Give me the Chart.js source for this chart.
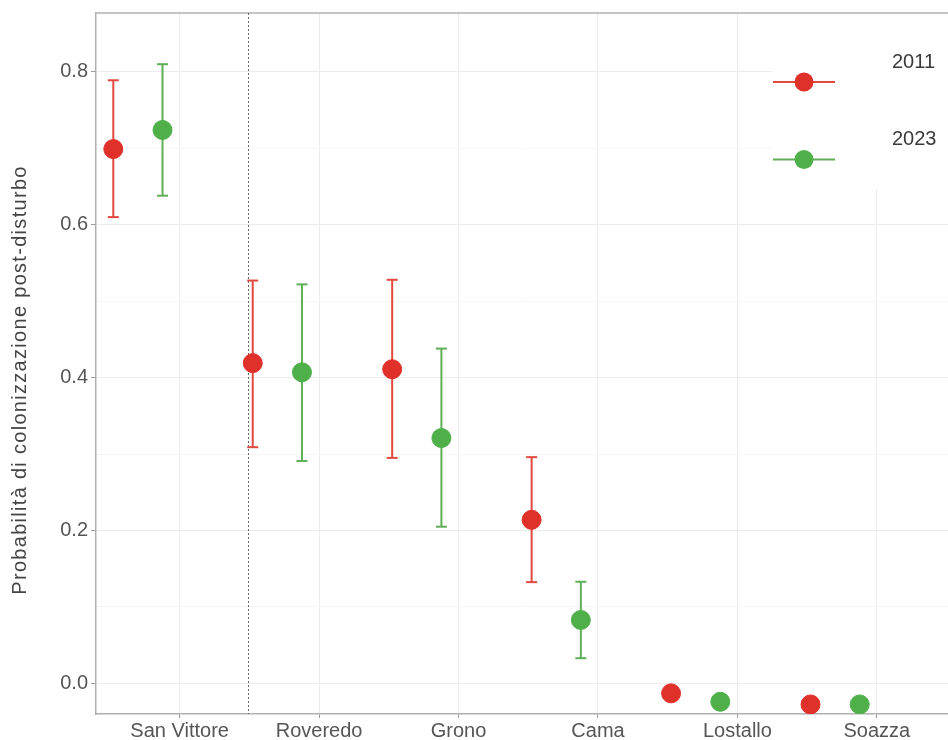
<!DOCTYPE html>
<html>
<head>
<meta charset="utf-8">
<script src="https://cdn.jsdelivr.net/npm/chart.js@4"></script>
<style>
  html, body { margin: 0; padding: 0; background: #fff; }
  canvas { display: block; }
</style>
</head>
<body>
<canvas id="grafico" width="948" height="740"></canvas>
<script>
// Dati
const siti = ['San Vittore', 'Roveredo', 'Grono', 'Cama', 'Lostallo', 'Soazza'];
const anni = ['2011', '2023'];

const prob2011 = [0.699, 0.419, 0.411, 0.214, -0.013, -0.0275];
const inf2011  = [0.610, 0.309, 0.295, 0.1325, -0.022, -0.0275];
const sup2011  = [0.789, 0.527, 0.528, 0.296, -0.004, -0.0275];

const prob2023 = [0.724, 0.407, 0.321, 0.083, -0.024, -0.0275];
const inf2023  = [0.638, 0.291, 0.205, 0.033, -0.024, -0.0275];
const sup2023  = [0.810, 0.522, 0.438, 0.133, -0.024, -0.0275];

const yTicks = [0.0, 0.2, 0.4, 0.6, 0.8];
const titoloY = 'Probabilità di colonizzazione post-disturbo';

// Stile
const colori = ['#e0302a', '#4fb04a'];
const coloriBarre = ['#e2493f', '#5fae58'];
const spostamento = [-0.476, -0.123];   // posizione dei due anni rispetto al sito
const separatore = 0.49;                 // linea tratteggiata verticale
const testoGrigio = '#555555';
const famiglia = '"Liberation Sans", Arial, sans-serif';

function punti(valori, k) {
    return valori.map((v, i) => ({ x: i + spostamento[k], y: v }));
}

function barre(inf, sup, k) {
    return inf.flatMap((v, i) => [
        { x: i + spostamento[k], y: v },
        { x: i + spostamento[k], y: sup[i] },
        { x: i + spostamento[k], y: null }
    ]);
}

const serie = [
    { prob: prob2011, inf: inf2011, sup: sup2011 },
    { prob: prob2023, inf: inf2023, sup: sup2023 }
];

const datasets = [];
serie.forEach((s, k) => {
    datasets.push({
        type: 'scatter',
        label: anni[k],
        data: punti(s.prob, k),
        pointRadius: 9.5,
        pointHoverRadius: 9.5,
        backgroundColor: colori[k],
        borderColor: colori[k],
        borderWidth: 1,
        order: 0
    });
});
serie.forEach((s, k) => {
    datasets.push({
        type: 'line',
        label: anni[k] + ' IC',
        data: barre(s.inf, s.sup, k),
        showLine: true,
        spanGaps: false,
        borderColor: coloriBarre[k],
        borderWidth: 2,
        pointStyle: 'line',
        pointRadius: 5.5,
        pointHoverRadius: 5.5,
        pointBorderColor: coloriBarre[k],
        pointBorderWidth: 2,
        fill: false,
        order: 1
    });
});

// Cornice superiore, titolo asse y, linea tratteggiata e legenda
const decorazioni = {
    id: 'decorazioni',
    beforeDatasetsDraw(chart) {
        const ctx = chart.ctx;
        const area = chart.chartArea;
        const x = chart.scales.x;
        ctx.save();

        // bordo superiore
        ctx.strokeStyle = '#b0b0b0';
        ctx.lineWidth = 1.5;
        ctx.beginPath();
        ctx.moveTo(area.left, area.top);
        ctx.lineTo(area.right, area.top);
        ctx.stroke();

        // titolo asse y
        ctx.save();
        ctx.translate(20, 380);
        ctx.rotate(-Math.PI / 2);
        ctx.font = '20px ' + famiglia;
        ctx.letterSpacing = '1.3px';
        ctx.fillStyle = '#444444';
        ctx.textAlign = 'center';
        ctx.textBaseline = 'middle';
        ctx.fillText(titoloY, 0, 0);
        ctx.restore();

        // linea tratteggiata
        const px = Math.round(x.getPixelForValue(separatore)) + 0.5;
        ctx.strokeStyle = '#666';
        ctx.lineWidth = 1;
        ctx.setLineDash([2, 2]);
        ctx.beginPath();
        ctx.moveTo(px, area.top);
        ctx.lineTo(px, area.bottom);
        ctx.stroke();
        ctx.setLineDash([]);

        // legenda
        ctx.fillStyle = '#ffffff';
        ctx.fillRect(772, area.top + 1, area.right - 772, 175);
        anni.forEach((a, k) => {
            const ly = 82 + k * 77.5;
            ctx.strokeStyle = coloriBarre[k];
            ctx.lineWidth = 2;
            ctx.beginPath();
            ctx.moveTo(773, ly);
            ctx.lineTo(835, ly);
            ctx.stroke();
            ctx.fillStyle = colori[k];
            ctx.beginPath();
            ctx.arc(804, ly, 9.5, 0, Math.PI * 2);
            ctx.fill();
            ctx.fillStyle = '#3a3a3a';
            ctx.font = '20px ' + famiglia;
            ctx.textAlign = 'left';
            ctx.textBaseline = 'middle';
            ctx.fillText(a, 892, ly - 20);
        });
        ctx.restore();
    }
};

const font = { family: famiglia, size: 20 };

new Chart(document.getElementById('grafico').getContext('2d'), {
    data: { datasets: datasets },
    plugins: [decorazioni],
    options: {
        responsive: false,
        animation: false,
        devicePixelRatio: 1,
        layout: { autoPadding: false, padding: { top: 13, right: 0, bottom: 0, left: 0 } },
        plugins: {
            legend: { display: false },
            tooltip: { enabled: false }
        },
        scales: {
            x: {
                type: 'linear',
                min: -0.6,
                max: 5.51,
                afterBuildTicks: s => { s.ticks = siti.map((c, i) => ({ value: i })); },
                afterFit: s => { s.height = 26; s.paddingLeft = 0; s.paddingRight = 0; },
                ticks: {
                    callback: v => siti[v],
                    font: font,
                    color: testoGrigio,
                    padding: 1,
                    maxRotation: 0,
                    autoSkip: false
                },
                grid: { color: '#ececec', lineWidth: 1, tickLength: 4, tickColor: '#9a9a9a' },
                border: { color: '#b0b0b0', width: 1.5 }
            },
            y: {
                type: 'linear',
                min: -0.04,
                max: 0.877,
                afterBuildTicks: s => {
                    const t = [];
                    for (let v = 0; v <= 0.85; v += 0.1) t.push({ value: Math.round(v * 10) / 10 });
                    s.ticks = t;
                },
                afterFit: s => { s.width = 96; s.paddingTop = 0; s.paddingBottom = 0; },
                ticks: {
                    callback: v => yTicks.some(t => Math.abs(t - v) < 1e-6) ? v.toFixed(1) : '',
                    font: font,
                    color: testoGrigio,
                    padding: 3
                },
                grid: {
                    color: c => yTicks.some(t => Math.abs(t - c.tick.value) < 1e-6) ? '#ececec' : '#f6f6f6',
                    tickColor: c => yTicks.some(t => Math.abs(t - c.tick.value) < 1e-6) ? '#9a9a9a' : 'rgba(0,0,0,0)',
                    lineWidth: 1,
                    tickLength: 5
                },
                border: { color: '#b0b0b0', width: 1.5 }
            }
        }
    }
});
</script>
</body>
</html>
